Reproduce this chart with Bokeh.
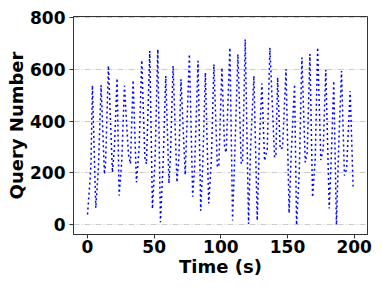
from bokeh.plotting import figure
from bokeh.embed import file_html
from bokeh.resources import INLINE
from bokeh.models import Range1d, FixedTicker

time_s = [0, 2, 2.6, 3.7, 6.2, 8.2, 10.2, 12.7, 13.5, 15.7, 18.7, 20.2, 22.2, 23.7, 25.7,
          27.7, 30.7, 32.2, 34.2, 36.7, 38.7, 40.7, 43, 44.2, 46.7, 48.7, 50.7, 52.7,
          54.7, 56.7, 58.7, 61.1, 62.2, 64.2, 67.1, 68.6, 70.1, 73.3, 76.4, 78.9, 80.4,
          82.9, 84.9, 86.4, 88.4, 90.9, 92.9, 94.8, 97.4, 98.5, 100.8, 102.8, 104,
          106.8, 108.8, 110.3, 112.8, 115.3, 116.3, 118.3, 120.8, 122.3, 124.8, 127.3,
          128.8, 130.8, 132.8, 134.8, 136.8, 140.3, 141.3, 142.6, 144.5, 146.3, 148.9,
          151.2, 152.8, 155.3, 156.8, 158.8, 160.8, 163.3, 164.8, 166.8, 168.8, 170.8,
          172.6, 175.0, 176.8, 178.7, 181.3, 182.8, 184.7, 186.7, 188.5, 190.5, 192.7,
          194.3, 197.0, 199.2]
queries = [40, 180, 230, 538, 65, 220, 538, 195, 230, 613, 202, 298, 565, 113, 247,
           536, 273, 235, 558, 164, 292, 635, 260, 235, 670, 62, 254, 677,
           10, 235, 574, 160, 266, 613, 164, 266, 561, 193, 658, 109, 228,
           632, 55, 228, 587, 83, 247, 619, 222, 230, 606, 298, 279,
           683, 17, 247, 658, 235, 247, 715, 4, 298, 574, 17,
           298, 545, 247, 292, 683, 260, 270, 568, 292, 298, 600,
           45, 273, 542, 0, 202, 645, 241, 279, 658, 106, 254,
           684, 250, 292, 598, 63, 254, 555, 0, 320, 593, 190,
           215, 516, 148]
y_ticks = [0, 200, 400, 600, 800]
x_ticks = [0, 50, 100, 150, 200]

p = figure(width=374, height=279, output_backend="svg", toolbar_location=None,
           x_range=Range1d(-10.5, 210), y_range=Range1d(-37, 803),
           min_border_left=73, min_border_right=7, min_border_top=16, min_border_bottom=45)

p.line(time_s, queries, line_color="#0000ff", line_width=1.5, line_dash="2 3")

FONT = "DejaVu Sans"
p.xaxis.ticker = FixedTicker(ticks=x_ticks)
p.yaxis.ticker = FixedTicker(ticks=y_ticks)
p.xaxis.axis_label = "Time (s)"
p.yaxis.axis_label = "Query Number"
for ax in (p.xaxis, p.yaxis):
    ax.major_label_text_font = FONT
    ax.major_label_text_font_style = "bold"
    ax.major_label_text_font_size = "17px"
    ax.major_label_text_color = "black"
    ax.axis_label_text_font = FONT
    ax.axis_label_text_font_style = "bold"
    ax.axis_label_text_font_size = "18px"
    ax.axis_label_text_color = "black"
    ax.minor_tick_line_color = None
    ax.major_tick_out = 4
    ax.major_tick_in = 0
    ax.axis_line_color = "#333333"
    ax.major_tick_line_color = "#333333"
p.xaxis.major_label_standoff = 1
p.yaxis.major_label_standoff = 4
p.xaxis.axis_label_standoff = 0
p.yaxis.axis_label_standoff = 0

p.xgrid.grid_line_color = None
p.ygrid.grid_line_color = "#cccccc"
p.ygrid.grid_line_dash = "6 2 1 2"
p.ygrid.grid_line_width = 1
p.outline_line_color = "#333333"
p.outline_line_width = 1
p.background_fill_color = "white"
p.border_fill_color = "white"

open("out.html", "w").write(file_html(p, INLINE))
